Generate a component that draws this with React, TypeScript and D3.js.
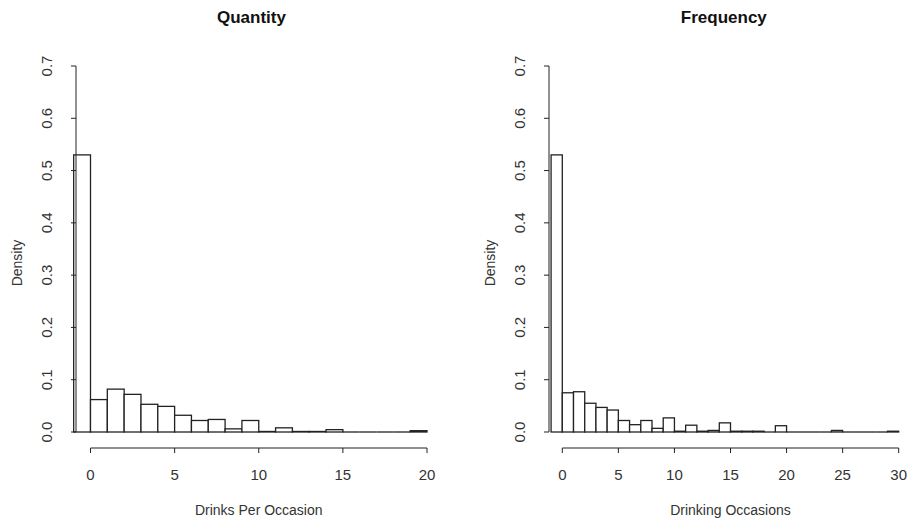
import React from "react";
import * as d3 from "d3";

// histogram bins of width 1, first bin starts at -1
const quantityStart = -1;
const quantityDensity = [
  0.53, 0.062, 0.082, 0.072, 0.053, 0.049, 0.032, 0.022, 0.024, 0.006, 0.022,
  0.001, 0.008, 0.001, 0.001, 0.0045, 0, 0, 0, 0, 0.0025,
];
const quantityTicks = [0, 5, 10, 15, 20];

const frequencyStart = -1;
const frequencyDensity = [
  0.53, 0.075, 0.077, 0.055, 0.047, 0.042, 0.022, 0.014, 0.022, 0.007, 0.027,
  0.0015, 0.013, 0.0015, 0.003, 0.0175, 0.0015, 0.0015, 0.0015, 0, 0.012,
  0, 0, 0, 0, 0.003, 0, 0, 0, 0, 0.0015,
];
const frequencyTicks = [0, 5, 10, 15, 20, 25, 30];

const densityTicks = [0, 0.1, 0.2, 0.3, 0.4, 0.5, 0.6, 0.7];

const FONT = "'Liberation Sans', Arial, sans-serif";
const INK = "#222";

const y = d3.scaleLinear().domain([0, 0.7]).range([432, 66]);

const Histogram = ({ title, xlabel, start, density, ticks, xRange, axisX }) => {
  const x = d3
    .scaleLinear()
    .domain([ticks[0], ticks[ticks.length - 1]])
    .range(xRange);
  const axisY = 448;
  const mid = (axisX + xRange[1]) / 2;

  return (
    <g>
      <text x={mid} y={23} textAnchor="middle" fontFamily={FONT} fontWeight="bold" fontSize="17" fill="#111">
        {title}
      </text>

      {density.map((d, i) =>
        d > 0 ? (
          <rect
            key={i}
            x={x(start + i)}
            y={y(d)}
            width={x(start + i + 1) - x(start + i)}
            height={y(0) - y(d)}
            fill="white"
            stroke={INK}
            strokeWidth="1.3"
          />
        ) : (
          // empty bin: R still draws a flat rectangle on the baseline
          <line key={i} x1={x(start + i)} x2={x(start + i + 1)} y1={y(0)} y2={y(0)} stroke={INK} strokeWidth="1.3" />
        )
      )}

      {/* y axis */}
      <line x1={axisX} x2={axisX} y1={y(0)} y2={y(0.7)} stroke={INK} />
      {densityTicks.map((t, i) => (
        <g key={i}>
          <line x1={axisX - 5} x2={axisX} y1={y(t)} y2={y(t)} stroke={INK} />
          <text
            transform={`translate(${axisX - 30}, ${y(t)}) rotate(-90)`}
            textAnchor="middle"
            dominantBaseline="central"
            fontFamily={FONT}
            fontSize="15"
            fill="#333"
          >
            {t.toFixed(1)}
          </text>
        </g>
      ))}
      <text
        transform={`translate(${axisX - 59}, ${(y(0) + y(0.7)) / 2 + 14}) rotate(-90)`}
        textAnchor="middle"
        dominantBaseline="central"
        fontFamily={FONT}
        fontSize="14"
        fill="#333"
      >
        Density
      </text>

      {/* x axis */}
      <line x1={xRange[0]} x2={xRange[1]} y1={axisY} y2={axisY} stroke={INK} />
      {ticks.map((t, i) => (
        <g key={i}>
          <line x1={x(t)} x2={x(t)} y1={axisY} y2={axisY + 5} stroke={INK} />
          <text x={x(t)} y={474} textAnchor="middle" dominantBaseline="central" fontFamily={FONT} fontSize="15" fill="#333">
            {t}
          </text>
        </g>
      ))}
      <text x={(xRange[0] + xRange[1]) / 2} y={510} textAnchor="middle" dominantBaseline="central" fontFamily={FONT} fontSize="14" fill="#333">
        {xlabel}
      </text>
    </g>
  );
};

const App = () => {
  return (
    <svg width="913" height="523" style={{ position: "absolute", left: 0, top: 0, background: "white" }}>
      <Histogram
        title="Quantity"
        xlabel="Drinks Per Occasion"
        start={quantityStart}
        density={quantityDensity}
        ticks={quantityTicks}
        xRange={[90.5, 427]}
        axisX={76}
      />
      <Histogram
        title="Frequency"
        xlabel="Drinking Occasions"
        start={frequencyStart}
        density={frequencyDensity}
        ticks={frequencyTicks}
        xRange={[562.3, 898.7]}
        axisX={549}
      />
    </svg>
  );
};

export default App;
